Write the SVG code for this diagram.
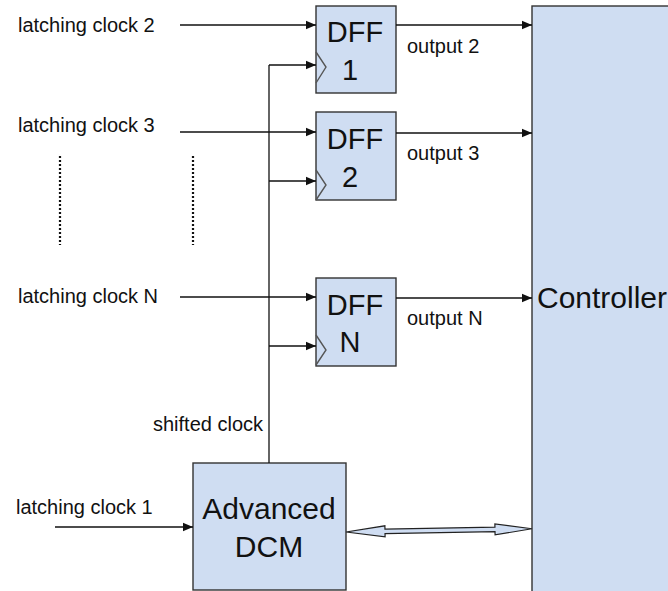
<svg xmlns="http://www.w3.org/2000/svg" width="668" height="591" viewBox="0 0 668 591">
<style>
.box{fill:#cfddf2;stroke:#333;stroke-width:1.4}
.clk{fill:none;stroke:#555;stroke-width:1.4}
.ln{stroke:#111;stroke-width:1.3;fill:none}
.arr{marker-end:url(#ah)}
.dot{stroke:#111;stroke-width:2.2;stroke-dasharray:2,2;fill:none}
.s{font-family:"Liberation Sans",Arial,sans-serif;font-size:20px;fill:#111}
.b{font-family:"Liberation Sans",Arial,sans-serif;font-size:29px;fill:#111;text-anchor:middle}
.c{font-family:"Liberation Sans",Arial,sans-serif;font-size:30px;fill:#111}
</style>
<defs>
<marker id="ah" markerUnits="userSpaceOnUse" markerWidth="10" markerHeight="10" viewBox="0 0 10 10" refX="10" refY="5" orient="auto">
<path d="M0,0.8 L10,5 L0,9.2 Z" fill="#111"/>
</marker>
</defs>
<rect width="668" height="591" fill="#fff"/>
<g id="controller">
<rect class="box" x="532" y="6" width="150" height="590"/>
<text class="c" x="537" y="308">Controller</text>
</g>
<g id="dff1">
<rect class="box" x="316" y="6" width="80" height="87"/>
<polyline class="clk" points="316,52 326,67 316,83"/>
<text class="b" x="355" y="42">DFF</text>
<text class="b" x="350" y="80">1</text>
</g>
<g id="dff2">
<rect class="box" x="316" y="112" width="80" height="88"/>
<polyline class="clk" points="316,170 326,185 316,200"/>
<text class="b" x="355" y="149">DFF</text>
<text class="b" x="350" y="187">2</text>
</g>
<g id="dffn">
<rect class="box" x="316" y="278" width="80" height="88"/>
<polyline class="clk" points="316,335 326,350 316,365"/>
<text class="b" x="355" y="315">DFF</text>
<text class="b" x="350" y="352">N</text>
</g>
<g id="dcm">
<rect class="box" x="193" y="463" width="153" height="127"/>
<text class="b" x="269" y="519" style="font-size:30px">Advanced</text>
<text class="b" x="269" y="557" style="font-size:30px">DCM</text>
</g>
<g id="labels">
<text class="s" x="18" y="32">latching clock 2</text>
<text class="s" x="18" y="132">latching clock 3</text>
<text class="s" x="18" y="303">latching clock N</text>
<text class="s" x="16" y="514">latching clock 1</text>
<text class="s" x="153" y="431">shifted clock</text>
<text class="s" x="407" y="53">output 2</text>
<text class="s" x="407" y="160">output 3</text>
<text class="s" x="407" y="325">output N</text>
<line class="dot" x1="60" y1="156" x2="60" y2="245"/>
<line class="dot" x1="193" y1="156" x2="193" y2="245"/>
</g>
<g id="connectors">
<line class="ln arr" x1="180" y1="25" x2="316" y2="25"/>
<line class="ln arr" x1="180" y1="132" x2="316" y2="132"/>
<line class="ln arr" x1="180" y1="297" x2="316" y2="297"/>
<line class="ln arr" x1="55" y1="527" x2="193" y2="527"/>
<line class="ln" x1="269" y1="463" x2="269" y2="65"/>
<line class="ln arr" x1="269" y1="65" x2="316" y2="65"/>
<line class="ln arr" x1="269" y1="181" x2="316" y2="181"/>
<line class="ln arr" x1="269" y1="346" x2="316" y2="346"/>
<line class="ln arr" x1="396" y1="25" x2="532" y2="25"/>
<line class="ln arr" x1="396" y1="133" x2="532" y2="133"/>
<line class="ln arr" x1="396" y1="298" x2="532" y2="298"/>
<path transform="translate(346,532) rotate(-1)" d="M0,0 L39,-5.5 L39,-2.3 L149,-2.3 L149,-5.5 L186,0 L149,5.5 L149,2.3 L39,2.3 L39,5.5 Z" fill="#cfddf2" stroke="#222" stroke-width="1.2" stroke-linejoin="miter"/>
</g>
</svg>
